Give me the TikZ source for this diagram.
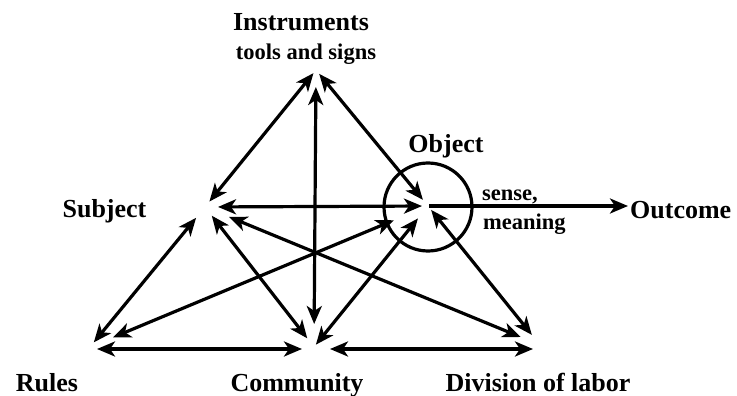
\documentclass[tikz,border=0pt]{standalone}
\usepackage{fontspec}
\setmainfont{Liberation Serif}
\usetikzlibrary{arrows.meta}
\begin{document}
\begin{tikzpicture}[x=1pt,y=-1pt,
  arr/.style={line width=3.2pt, {Stealth[length=18pt,width=15pt,inset=5pt]}-{Stealth[length=18pt,width=15pt,inset=5pt]}},
  onearr/.style={line width=3.2pt, -{Stealth[length=18pt,width=15pt,inset=5pt]}},
  big/.style={font=\fontsize{26}{28}\selectfont\bfseries, inner sep=0pt, anchor=base},
  small/.style={font=\fontsize{22.5}{24}\selectfont\bfseries, inner sep=0pt, anchor=base}]
\useasboundingbox (0,0) rectangle (737,396);
% vertices
\coordinate (I) at (316,70);
\coordinate (S) at (205,207);
\coordinate (O) at (428,206);
\coordinate (R) at (90,347);
\coordinate (C) at (314,347);
\coordinate (D) at (540,345);
\coordinate (RC) at (92,349);
\coordinate (CR) at (310,349);
\coordinate (CD) at (320,349);
\coordinate (DC) at (540,349);
\coordinate (OUT) at (628,206);
% circle round object
\node[circle, draw, line width=3.2pt, minimum size=88pt, inner sep=0pt] (ocirc) at (428,207) {};
% connectors
\draw[arr, shorten <=7pt, shorten >=4pt] (S) -- (I);
\draw[arr, shorten <=17pt, shorten >=23pt] (I) -- (C);
\draw[arr, shorten <=5pt, shorten >=8pt] (I) -- (O);
\draw[arr, shorten <=13pt, shorten >=6pt] (S) -- (O);
\draw[onearr, shorten <=1pt] (O) -- (OUT);
\draw[arr, shorten <=14pt, shorten >=6pt] (S) -- (R);
\draw[arr, shorten <=11pt, shorten >=11pt] (S) -- (C);
\draw[arr, shorten <=26pt, shorten >=21pt] (S) -- (D);
\draw[arr, shorten <=25pt, shorten >=37pt] (R) -- (O);
\draw[arr, shorten <=3pt, shorten >=16pt] (C) -- (O);
\draw[arr, shorten <=5pt, shorten >=13pt] (O) -- (D);
\draw[arr, shorten <=5pt, shorten >=8pt] (RC) -- (CR);
\draw[arr, shorten <=10pt, shorten >=7pt] (CD) -- (DC);
% labels
\node[big] (tinst) at (301,31) {Instruments};
\node[small] (ttools) at (306,60) {tools and signs};
\node[big] (tsubj) at (104.5,217) {Subject};
\node[big] (tobj) at (446,153) {Object};
\node[small, anchor=base west] (tsense) at (482,200) {sense,};
\node[small, anchor=base west] (tmean) at (483,229) {meaning};
\node[big, anchor=base west] (tout) at (630,218) {Outcome};
\node[big] (trules) at (47,391) {Rules};
\node[big] (tcomm) at (297,391) {Community};
\node[big] (tdiv) at (538,391) {Division of labor};
\end{tikzpicture}
\end{document}
